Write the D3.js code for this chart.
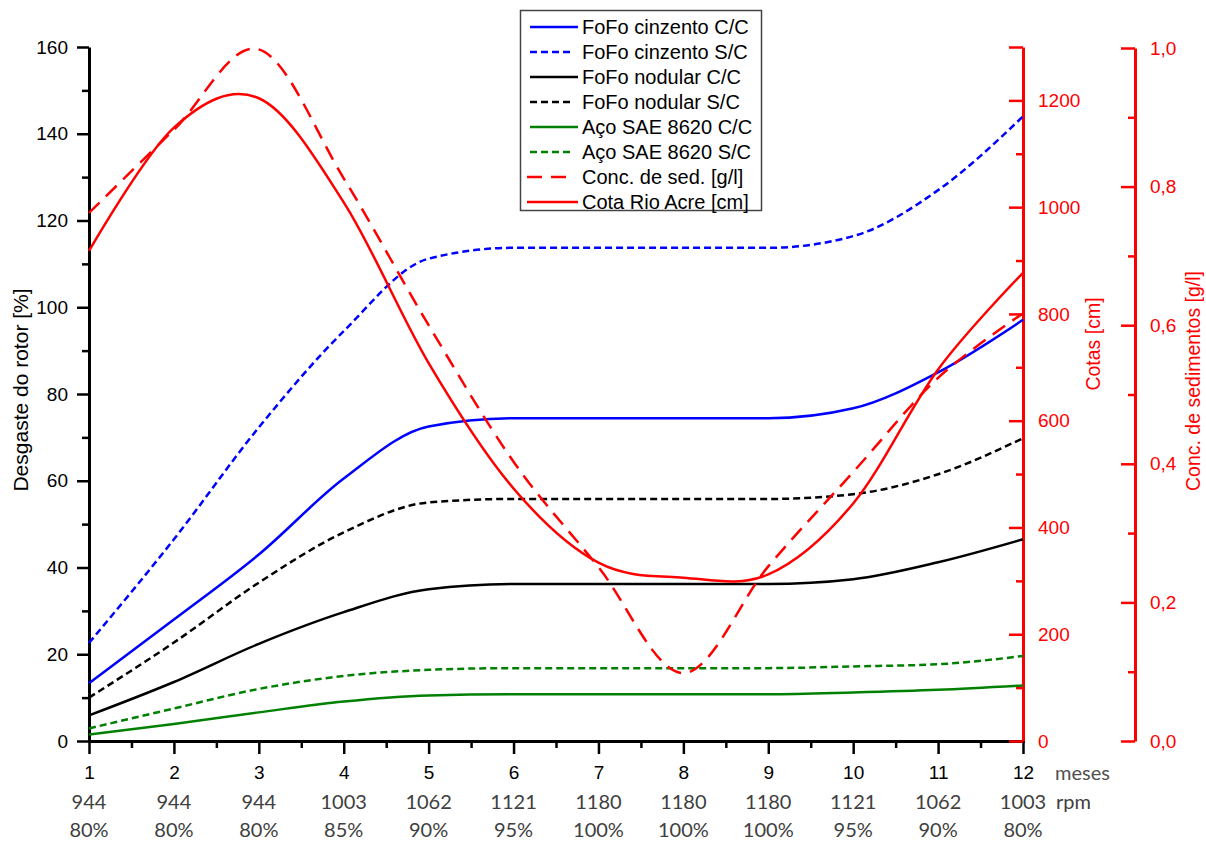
<!DOCTYPE html>
<html>
<head>
<meta charset="utf-8">
<script src="https://cdn.jsdelivr.net/npm/d3@7"></script>
<style>
  body { margin: 0; background: #fff; }
  svg { display: block; }
  text { font-family: "Liberation Sans", Arial, sans-serif; }
</style>
</head>
<body>
<svg id="chart" width="1206" height="843"></svg>
<script>
// Months of operation and the turbine regime in each month
const months = [1, 2, 3, 4, 5, 6, 7, 8, 9, 10, 11, 12];
const rpmLabels = ["944", "944", "944", "1003", "1062", "1121", "1180", "1180", "1180", "1121", "1062", "1003"];
const loadLabels = ["80%", "80%", "80%", "85%", "90%", "95%", "100%", "100%", "100%", "95%", "90%", "80%"];

// Rotor wear [%] per material, with (C/C) and without (S/C) coating
const cinzentoCC = [13.3, 28.0, 43.0, 60.5, 72.5, 74.4, 74.4, 74.4, 74.4, 76.7, 85.0, 97.1];
const cinzentoSC = [22.6, 46.5, 72.3, 94.5, 111.2, 113.7, 113.7, 113.7, 113.7, 116.4, 127.0, 144.0];
const nodularCC  = [5.9, 13.6, 22.4, 29.7, 35.0, 36.2, 36.2, 36.2, 36.2, 37.3, 41.2, 46.5];
const nodularSC  = [10.0, 22.7, 36.5, 48.1, 55.0, 55.8, 55.8, 55.8, 55.8, 56.9, 61.5, 69.8];
const acoCC      = [1.5, 3.9, 6.6, 9.1, 10.5, 10.8, 10.8, 10.8, 10.8, 11.2, 11.8, 12.8];
const acoSC      = [2.9, 7.5, 12.0, 15.0, 16.4, 16.8, 16.8, 16.8, 16.8, 17.2, 17.7, 19.6];

// River level [cm] and sediment concentration [g/l]
const cotaRioAcre = [918, 1149, 1204, 1009, 708, 473, 334, 306, 312, 445, 696, 877];
const concSed     = [0.762, 0.882, 0.998, 0.812, 0.600, 0.403, 0.251, 0.098, 0.252, 0.388, 0.524, 0.617];

// Axis ticks
const wearTicks = [0, 20, 40, 60, 80, 100, 120, 140, 160];
const cotaTicks = [0, 200, 400, 600, 800, 1000, 1200];
const concTicks = [0, 0.2, 0.4, 0.6, 0.8, 1.0];

const seriesNames = [
  "FoFo cinzento C/C", "FoFo cinzento S/C",
  "FoFo nodular C/C", "FoFo nodular S/C",
  "Aço SAE 8620 C/C", "Aço SAE 8620 S/C",
  "Conc. de sed. [g/l]", "Cota Rio Acre [cm]"
];

const BLUE = "#0000ff", BLACK = "#000000", GREEN = "#008000", RED = "#ff0000";
const SHORT_DASH = "7,4", LONG_DASH = "15,9";

const svg = d3.select("#chart");
svg.append("rect").attr("width", 1206).attr("height", 843).attr("fill", "#fff");

// Scales
const x = d3.scaleLinear().domain([1, 12]).range([89, 1023]);
const yWear = d3.scaleLinear().domain([0, 160]).range([741, 47]);
const yCota = d3.scaleLinear().domain([0, 1300]).range([741, 47]);
const yConc = d3.scaleLinear().domain([0, 1]).range([741, 48]);

const commaFmt = d => d3.format(".1f")(d).replace(".", ",");

function styleAxis(g, color, domainWidth) {
  g.select(".domain").attr("stroke", color).attr("stroke-width", domainWidth);
  g.selectAll(".tick line").attr("stroke", color).attr("stroke-width", 2.5);
  g.selectAll(".tick text").attr("fill", color)
    .style("font-family", '"Liberation Sans", Arial, sans-serif').style("font-size", "19px");
}

// Left axis: rotor wear
const gL = svg.append("g").attr("transform", "translate(89,0)")
  .call(d3.axisLeft(yWear).tickValues(wearTicks).tickSizeInner(12).tickSizeOuter(0)
    .tickPadding(9).tickFormat(d3.format("d")));
styleAxis(gL, BLACK, 3);
const gLm = svg.append("g").attr("transform", "translate(89,0)")
  .call(d3.axisLeft(yWear).tickValues(d3.range(10, 160, 20)).tickSize(7).tickFormat(""));
gLm.select(".domain").remove();
styleAxis(gLm, BLACK, 3);

// Bottom axis: months
const gB = svg.append("g").attr("transform", "translate(0,741)")
  .call(d3.axisBottom(x).tickValues(months).tickSizeInner(13).tickSizeOuter(0)
    .tickPadding(12).tickFormat(d3.format("d")));
styleAxis(gB, BLACK, 3);
gB.select(".domain").attr("stroke-linecap", "square");
const gBm = svg.append("g").attr("transform", "translate(0,741)")
  .call(d3.axisBottom(x).tickValues(d3.range(1.5, 12, 1)).tickSize(7).tickFormat(""));
gBm.select(".domain").remove();
styleAxis(gBm, BLACK, 3);

// Regime rows under the month labels
const regimeFont = 'Lato, "Open Sans", sans-serif';
svg.append("g").selectAll("text").data(rpmLabels).join("text")
  .attr("x", (d, i) => x(months[i])).attr("y", 809)
  .attr("text-anchor", "middle").attr("fill", "#404040")
  .style("font-family", regimeFont).style("font-size", "20px").text(d => d);
svg.append("g").selectAll("text").data(loadLabels).join("text")
  .attr("x", (d, i) => x(months[i])).attr("y", 837)
  .attr("text-anchor", "middle").attr("fill", "#404040")
  .style("font-family", regimeFont).style("font-size", "20px").text(d => d);
svg.append("text").attr("x", 1055).attr("y", 780).attr("fill", "#505050")
  .style("font-family", regimeFont).style("font-size", "20px").text("meses");
svg.append("text").attr("x", 1056).attr("y", 809).attr("fill", "#404040")
  .style("font-family", regimeFont).style("font-size", "20px").text("rpm");

// Right axis: river level
const gC = svg.append("g").attr("transform", "translate(1023,0)")
  .call(d3.axisRight(yCota).tickValues(cotaTicks.concat([1300])).tickSizeInner(-14).tickSizeOuter(0)
    .tickPadding(15).tickFormat(d => d === 1300 ? "" : d3.format("d")(d)));
styleAxis(gC, RED, 3);
const gCm = svg.append("g").attr("transform", "translate(1023,0)")
  .call(d3.axisRight(yCota).tickValues(d3.range(100, 1300, 200)).tickSize(-7).tickFormat(""));
gCm.select(".domain").remove();
styleAxis(gCm, RED, 3);

// Far right axis: sediment concentration
const gS = svg.append("g").attr("transform", "translate(1135,0)")
  .call(d3.axisRight(yConc).tickValues(concTicks).tickSizeInner(-14).tickSizeOuter(0)
    .tickPadding(15).tickFormat(commaFmt));
styleAxis(gS, RED, 3);
const gSm = svg.append("g").attr("transform", "translate(1135,0)")
  .call(d3.axisRight(yConc).tickValues([0.1, 0.3, 0.5, 0.7, 0.9]).tickSize(-7).tickFormat(""));
gSm.select(".domain").remove();
styleAxis(gSm, RED, 3);

// Axis titles
svg.append("text").attr("transform", "translate(28,390) rotate(-90)")
  .attr("text-anchor", "middle").attr("fill", BLACK).style("font-size", "21px")
  .text("Desgaste do rotor [%]");
svg.append("text").attr("transform", "translate(1100,344) rotate(-90)")
  .attr("text-anchor", "middle").attr("fill", RED).style("font-size", "19.5px")
  .text("Cotas [cm]");
svg.append("text").attr("transform", "translate(1200,381) rotate(-90)")
  .attr("text-anchor", "middle").attr("fill", RED).style("font-size", "19.5px")
  .text("Conc. de sedimentos [g/l]");

// Series table built from the arrays above
const wearSeries = [
  { name: seriesNames[0], values: cinzentoCC, color: BLUE,  dash: null },
  { name: seriesNames[1], values: cinzentoSC, color: BLUE,  dash: SHORT_DASH },
  { name: seriesNames[2], values: nodularCC,  color: BLACK, dash: null },
  { name: seriesNames[3], values: nodularSC,  color: BLACK, dash: SHORT_DASH },
  { name: seriesNames[4], values: acoCC,      color: GREEN, dash: null },
  { name: seriesNames[5], values: acoSC,      color: GREEN, dash: SHORT_DASH }
];

const wearLine = d3.line()
  .x((d, i) => x(months[i])).y(d => yWear(d))
  .curve(d3.curveMonotoneX);

svg.append("g").selectAll("path").data(wearSeries).join("path")
  .attr("d", s => wearLine(s.values))
  .attr("fill", "none").attr("stroke", s => s.color).attr("stroke-width", 2.5)
  .attr("stroke-dasharray", s => s.dash);

// River curves, smoothed through the monthly values
const smooth = d3.curveCardinal.tension(0);
const concLine = d3.line().x((d, i) => x(months[i])).y(d => yConc(d)).curve(smooth);
const cotaLine = d3.line().x((d, i) => x(months[i])).y(d => yCota(d)).curve(smooth);

svg.append("path").attr("d", concLine(concSed))
  .attr("fill", "none").attr("stroke", RED).attr("stroke-width", 2.5)
  .attr("stroke-dasharray", LONG_DASH);
svg.append("path").attr("d", cotaLine(cotaRioAcre))
  .attr("fill", "none").attr("stroke", RED).attr("stroke-width", 2.5);

// Legend
const legendItems = wearSeries.concat([
  { name: seriesNames[6], color: RED, dash: LONG_DASH },
  { name: seriesNames[7], color: RED, dash: null }
]);
const legend = svg.append("g");
legend.append("rect").attr("x", 520.5).attr("y", 10.5).attr("width", 241).attr("height", 200)
  .attr("fill", "#fff").attr("stroke", "#444").attr("stroke-width", 1.5);
const rows = legend.selectAll("g.row").data(legendItems).join("g").attr("class", "row")
  .attr("transform", (d, i) => `translate(0,${34 + 25 * i})`);
rows.append("line")
  .attr("x1", d => d.color === RED ? 527 : 530)
  .attr("x2", d => d.dash === LONG_DASH ? 566 : (d.dash ? 570 : 578))
  .attr("y1", -7).attr("y2", -7)
  .attr("stroke", d => d.color).attr("stroke-width", 2.5)
  .attr("stroke-dasharray", d => d.dash);
rows.append("text").attr("x", 582).attr("y", 0).attr("fill", BLACK)
  .style("font-size", "20px").text(d => d.name);
</script>
</body>
</html>
